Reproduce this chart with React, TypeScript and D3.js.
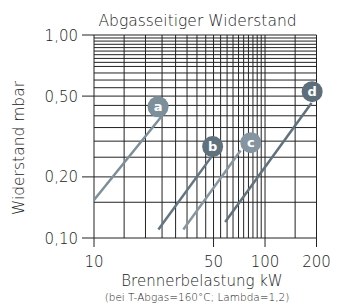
import React from "react";
import * as d3 from "d3";

const xTicks = [10, 50, 100, 200];
const xTickLabels = ["10", "50", "100", "200"];
const yTicks = [0.1, 0.2, 0.5, 1.0];
const yTickLabels = ["0,10", "0,20", "0,50", "1,00"];

const xGrid = [10, 15, 20, 25, 30, 35, 40, 45, 50, 55, 60, 65, 70, 75, 80, 85, 90, 95, 100, 150, 200];
const yGrid = [
  0.1, 0.15, 0.2, 0.25, 0.3, 0.35, 0.4, 0.45, 0.5, 0.55, 0.6, 0.65, 0.7,
  0.7333, 0.7667, 0.8, 0.8333, 0.8667, 0.9, 0.9333, 0.9667, 1.0,
];

const seriesNames = ["a", "b", "c", "d"];
const seriesX = [
  [10, 25],
  [23.8, 49.4],
  [33.3, 72],
  [58.5, 187],
];
const seriesY = [
  [0.154, 0.4],
  [0.11, 0.256],
  [0.11, 0.27],
  [0.12, 0.462],
];
const labelX = [23.7, 49.4, 82.6, 188.6];
const labelY = [0.443, 0.282, 0.295, 0.526];
const lineColors = ["#7d8f9b", "#627581", "#8797a2", "#5f717d"];
const circleColors = ["#7d8f9b", "#5f717d", "#8494a0", "#5c6e7a"];

export default function App() {
  const W = 349, H = 305;
  const x = d3.scaleLog().domain([10, 200]).range([94, 316.5]);
  const y = d3.scaleLog().domain([0.1, 1]).range([238, 35]);
  const line = d3.line<[number, number]>().x(d => x(d[0])).y(d => y(d[1]));
  const font = "'DejaVu Sans', sans-serif";
  const textCol = "#222";
  return (
    <svg width={W} height={H} style={{ position: "absolute", left: 0, top: 0 }}>
      <rect width={W} height={H} fill="#fff" />
      <text x={197.5} y={26} textAnchor="middle" fontFamily={font} fontSize={15.5} fontWeight={300} fill={textCol}>
        Abgasseitiger Widerstand
      </text>
      {yGrid.map((v, i) => (
        <line key={"h" + i} x1={x(10)} x2={x(200)} y1={y(v)} y2={y(v)} stroke="#222" strokeWidth={1} />
      ))}
      {xGrid.map((v, i) => (
        <line key={"v" + i} x1={x(v)} x2={x(v)} y1={y(1)} y2={y(0.1)} stroke="#222" strokeWidth={1} />
      ))}
      {yTicks.map((v, i) => (
        <g key={"yt" + i}>
          <line x1={82} x2={x(10)} y1={y(v)} y2={y(v)} stroke="#222" strokeWidth={1} />
          <text x={78} y={y(v) + 5.5} textAnchor="end" fontFamily={font} fontSize={15} fontWeight={300} fill={textCol}>
            {yTickLabels[i]}
          </text>
        </g>
      ))}
      {xTicks.map((v, i) => (
        <g key={"xt" + i}>
          <line x1={x(v)} x2={x(v)} y1={y(0.1)} y2={247} stroke="#222" strokeWidth={1} />
          <text x={x(v)} y={267} textAnchor="middle" fontFamily={font} fontSize={15} fontWeight={300} fill={textCol}>
            {xTickLabels[i]}
          </text>
        </g>
      ))}
      {seriesNames.map((n, i) => {
        const pts: [number, number][] = seriesX[i].map((vx, j) => [vx, seriesY[i][j]]);
        return (
          <g key={n}>
            <path d={line(pts) || ""} stroke={lineColors[i]} strokeWidth={2.5} fill="none" />
            <circle cx={x(labelX[i])} cy={y(labelY[i])} r={10.5} fill={circleColors[i]} />
            <text x={x(labelX[i])} y={y(labelY[i]) + 4.5} textAnchor="middle" fontFamily={font} fontWeight="bold" fontSize={13} fill="#fff">
              {n}
            </text>
          </g>
        );
      })}
      <text x={202} y={286} textAnchor="middle" fontFamily={font} fontSize={15} fontWeight={300} fill={textCol}>
        Brennerbelastung kW
      </text>
      <text x={197} y={300.5} textAnchor="middle" fontFamily={font} fontSize={10.5} fontWeight={300} fill={textCol}>
        (bei T-Abgas=160°C; Lambda=1,2)
      </text>
      <text transform={`translate(24, 148) rotate(-90)`} textAnchor="middle" fontFamily={font} fontSize={15.5} fontWeight={300} fill={textCol}>
        Widerstand mbar
      </text>
    </svg>
  );
}
